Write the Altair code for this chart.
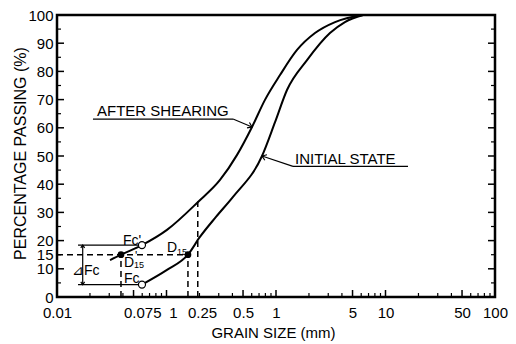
import altair as alt
import pandas as pd

FONT = "Liberation Sans"

# ---- curve data (grain size mm, percentage passing) ----
after_x = [0.0305, 0.0384, 0.0597, 0.101, 0.194, 0.308, 0.441, 0.604, 0.793, 1.088, 1.556, 2.27, 3.46, 6.24]
after_y = [13.1, 15.0, 18.4, 23.8, 33.7, 41.5, 50.4, 60.3, 69.9, 78.7, 87.6, 93.6, 97.5, 100]
init_x = [0.0597, 0.101, 0.157, 0.202, 0.283, 0.405, 0.745, 0.98, 1.26, 1.92, 3.11, 4.26, 6.24]
init_y = [4.4, 9.6, 15.0, 21.3, 28.4, 35.5, 50.0, 62.0, 73.4, 84.0, 93.6, 97.5, 100]

# ---- axis ticks / labels ----
x_tick_pos = [0.01, 0.06, 0.1146, 0.211, 0.5, 1, 5, 10, 50, 100]
x_tick_lab = ["0.01", "0.075", "1", "0.25", "0.5", "1", "5", "10", "50", "100"]
y_tick_vals = [0, 10, 15, 20, 30, 40, 50, 60, 70, 80, 90, 100]
x_major_ticks = [0.05, 0.1, 0.5, 1, 5, 10, 50]
x_minor_ticks = [m * d for d in [0.01, 0.1, 1, 10] for m in [2, 3, 4, 6, 7, 8, 9]]
y_major_ticks = [10, 20, 30, 40, 50, 60, 70, 80, 90]
y_minor_ticks = [5, 15, 25, 35, 45, 55, 65, 75, 85, 95]

# ---- annotation geometry ----
dash_x = [0.01, 0.0384, 0.157, 0.193]
dash_y = [15, 0, 0, 0]
dash_x2 = [0.157, 0.0384, 0.157, 0.193]
dash_y2 = [15, 15, 15, 33.9]

seg_x = [0.01556, 0.01556, 0.01717, 0.0213, 0.405, 1.43, 1.43]
seg_y = [18.4, 4.4, 4.4, 63.1, 63.1, 46.3, 46.3]
seg_x2 = [0.0597, 0.0597, 0.01717, 0.405, 0.604, 16.05, 0.745]
seg_y2 = [18.4, 4.4, 18.4, 63.1, 60.3, 46.3, 50.0]

arrow_x = [0.604, 0.745, 0.01717, 0.01717]
arrow_y = [60.3, 50.0, 18.4, 4.4]
arrow_ang = [25, 201, 270, 90]
arrow_sz = [70, 70, 30, 30]

filled_x = [0.0384, 0.157]
filled_y = [15, 15]
open_x = [0.0597, 0.0597]
open_y = [18.4, 4.4]

txt = ["AFTER SHEARING", "INITIAL STATE", "Fc'", "D", "15", "D", "15", "'", "Fc", "⊿Fc"]
txt_x = [0.0232, 1.491, 0.0401, 0.101, 0.1247, 0.0409, 0.0505, 0.0515, 0.0409, 0.0137]
txt_y = [64.2, 47.2, 18.6, 16.0, 15.0, 10.7, 10.2, 13.0, 5.0, 7.8]
txt_fs = [15, 15, 14, 14, 9, 14, 9, 12, 14, 14]

# ---- tables ----
curves = pd.DataFrame({
    "x": after_x + init_x,
    "y": after_y + init_y,
    "s": ["after"] * len(after_x) + ["initial"] * len(init_x),
})
dashes = pd.DataFrame({"x": dash_x, "y": dash_y, "x2": dash_x2, "y2": dash_y2})
segs = pd.DataFrame({"x": seg_x, "y": seg_y, "x2": seg_x2, "y2": seg_y2})
arrows = pd.DataFrame({"x": arrow_x, "y": arrow_y, "a": arrow_ang, "sz": arrow_sz})
filled = pd.DataFrame({"x": filled_x, "y": filled_y})
opens = pd.DataFrame({"x": open_x, "y": open_y})
texts = pd.DataFrame({"x": txt_x, "y": txt_y, "t": txt, "fs": txt_fs})

W, H = 438, 282

label_expr = "".join(
    f"datum.value == {p} ? '{l}' : " for p, l in zip(x_tick_pos, x_tick_lab)
) + "''"

xscale = alt.Scale(type="log", domain=[0.01, 100], nice=False)
yscale = alt.Scale(domain=[0, 100], nice=False)

x_axis = alt.Axis(
    values=x_tick_pos, labelExpr=label_expr, ticks=False, domain=False, grid=False,
    labelFlush=False, labelOverlap=False, labelFontSize=15, labelColor="black",
    labelPadding=8, labelFont=FONT,
    title="GRAIN SIZE  (mm)", titleFontSize=15, titleFontWeight="normal", titleFont=FONT,
    titleColor="black", titleX=216, titleY=35, titleBaseline="middle", titleAnchor="middle",
)
y_axis = alt.Axis(
    values=y_tick_vals, ticks=False, domain=False, grid=False, labelFontSize=15,
    labelColor="black", labelPadding=4, labelFont=FONT, labelOverlap=False, labelFlush=False,
    title="PERCENTAGE PASSING  (%)", titleFontSize=16, titleFontWeight="normal", titleFont=FONT,
    titleColor="black", titleX=-37, titleY=138, titleBaseline="middle", titleAngle=270,
)

base_x = alt.X("x:Q", scale=xscale, axis=x_axis)
base_y = alt.Y("y:Q", scale=yscale, axis=y_axis)

curve_layer = alt.Chart(curves).mark_line(
    color="black", strokeWidth=2, interpolate="monotone"
).encode(x=base_x, y=base_y, detail="s:N")

dash_layer = alt.Chart(dashes).mark_rule(
    color="black", strokeWidth=1.5, strokeDash=[6, 4]
).encode(x=base_x, y=base_y, x2="x2:Q", y2="y2:Q")

seg_layer = alt.Chart(segs).mark_rule(color="black", strokeWidth=1.2).encode(
    x=base_x, y=base_y, x2="x2:Q", y2="y2:Q"
)

arrow_layer = alt.Chart(arrows).mark_point(
    shape="M -1 -0.7 L 0 0 L -1 0.7", filled=False, color="black", strokeWidth=1.2, opacity=1
).encode(x=base_x, y=base_y, angle=alt.Angle("a:Q", scale=None),
         size=alt.Size("sz:Q", scale=None, legend=None))

filled_layer = alt.Chart(filled).mark_point(
    shape="circle", filled=True, color="black", size=45, opacity=1
).encode(x=base_x, y=base_y)

open_layer = alt.Chart(opens).mark_point(
    shape="circle", filled=True, fill="white", stroke="black", strokeWidth=1.2, size=50, opacity=1
).encode(x=base_x, y=base_y)

text_layer = alt.Chart(texts).mark_text(
    align="left", baseline="alphabetic", color="black", font=FONT
).encode(x=base_x, y=base_y, text="t:N", size=alt.Size("fs:Q", scale=None, legend=None))

bx_major = alt.Chart(pd.DataFrame({"x": x_major_ticks})).mark_rule(color="black", strokeWidth=1.5).encode(
    x=base_x, y=alt.value(H), y2=alt.value(H - 7))
bx_minor = alt.Chart(pd.DataFrame({"x": x_minor_ticks})).mark_rule(color="black", strokeWidth=1.2).encode(
    x=base_x, y=alt.value(H), y2=alt.value(H - 4))
ly_major = alt.Chart(pd.DataFrame({"y": y_major_ticks})).mark_rule(color="black", strokeWidth=1.5).encode(
    y=base_y, x=alt.value(0), x2=alt.value(7))
ly_minor = alt.Chart(pd.DataFrame({"y": y_minor_ticks})).mark_rule(color="black", strokeWidth=1.2).encode(
    y=base_y, x=alt.value(0), x2=alt.value(4))
ry_major = alt.Chart(pd.DataFrame({"y": y_major_ticks})).mark_rule(color="black", strokeWidth=1.5).encode(
    y=base_y, x=alt.value(W), x2=alt.value(W - 7))
ry_minor = alt.Chart(pd.DataFrame({"y": y_minor_ticks})).mark_rule(color="black", strokeWidth=1.2).encode(
    y=base_y, x=alt.value(W), x2=alt.value(W - 4))

chart = alt.layer(
    curve_layer, dash_layer, seg_layer, arrow_layer, filled_layer, open_layer, text_layer,
    bx_major, bx_minor, ly_major, ly_minor, ry_major, ry_minor,
).properties(
    width=W, height=H,
    padding={"left": 57, "top": 15, "right": 21, "bottom": 47},
    autosize=alt.AutoSizeParams(type="none"),
    background="white",
).configure(font=FONT).configure_axis(
    labelOverlap=False
).configure_view(
    stroke="black", strokeWidth=2.5
)

chart.save("out.html", embed_options={"renderer": "svg", "actions": False})
